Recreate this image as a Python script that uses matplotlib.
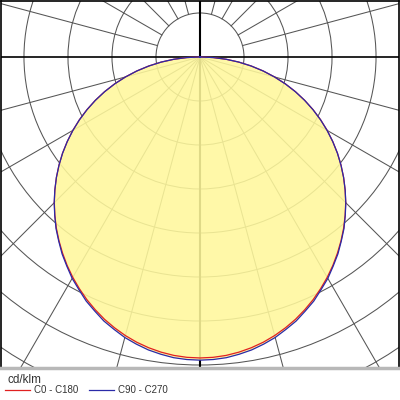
import numpy as np
import matplotlib.pyplot as plt
from matplotlib.patches import Circle

plt.rcParams['font.family'] = ['Liberation Sans', 'DejaVu Sans']

# luminous intensity (cd/klm) against angle from nadir, one half of each plane
angles = [0, 2.5, 5, 7.5, 10, 12.5, 15, 17.5, 20, 22.5, 25, 27.5, 30, 32.5, 35, 37.5,
          40, 42.5, 45, 47.5, 50, 52.5, 55, 57.5, 60, 62.5, 65, 67.5, 70, 72.5, 75,
          77.5, 80, 82.5, 85, 87.5, 90]
c0_c180 = [342.0, 341.6, 340.4, 338.3, 335.5, 332.0, 327.7, 322.7, 317.2, 310.9,
           304.2, 296.8, 289.1, 280.9, 272.2, 263.2, 253.9, 244.1, 234.1, 223.7,
           213.0, 202.0, 190.7, 178.9, 166.9, 154.5, 141.8, 128.8, 115.5, 101.8,
           87.8, 73.6, 59.2, 44.5, 29.8, 14.9, 0.0]
c90_c270 = [344.5, 344.1, 343.0, 340.7, 338.0, 334.2, 330.0, 324.6, 319.3, 312.5,
            306.0, 298.0, 290.5, 281.7, 273.2, 263.7, 254.5, 244.3, 234.3, 223.7,
            213.0, 201.9, 190.6, 178.8, 166.7, 154.3, 141.6, 128.6, 115.3, 101.6,
            87.6, 73.5, 59.0, 44.4, 29.7, 14.9, 0.0]
labels = ['C0 - C180', 'C90 - C270']
unit = 'cd/klm'

grid_step = 50
n_rings = 9

fig = plt.figure(figsize=(4, 4), dpi=100)
ax = fig.add_axes([1/400, 32/400, 398/400, 367/400])
ax.set_xlim(-226.1, 226.1)
ax.set_ylim(-353.4, 63.6)
ax.set_xticks([])
ax.set_yticks([])
for s in ['left', 'top', 'right']:
    ax.spines[s].set_color('black')
    ax.spines[s].set_linewidth(1.2)
ax.spines['bottom'].set_color('#b8b8b8')
ax.spines['bottom'].set_linewidth(2.5)

gcol = '#555555'
rmax = grid_step * n_rings
for i in range(1, n_rings + 1):
    ax.add_patch(Circle((0, 0), grid_step * i, fill=False, ec=gcol, lw=0.75, zorder=1))
for a in range(-165, 180, 15):
    t = np.deg2rad(a)
    if a in (0, -180, 90, -90):
        continue
    r0 = grid_step if np.sin(t) > 0 else 0
    ax.plot([r0 * np.cos(t), rmax * np.cos(t)], [r0 * np.sin(t), rmax * np.sin(t)],
            color=gcol, lw=0.75, zorder=1)
ax.axhline(0, color='black', lw=1.2, zorder=1)
ax.axvline(0, color='black', lw=1.5, zorder=1)


def outline(vals):
    th = np.deg2rad(np.array(angles))
    v = np.array(vals, dtype=float)
    th_full = np.concatenate([-th[::-1], th[1:]])
    v_full = np.concatenate([v[::-1], v[1:]])
    return v_full * np.sin(th_full), -v_full * np.cos(th_full)


xr, yr = outline(c0_c180)
xb, yb = outline(c90_c270)
ax.fill(xb, yb, color='#fff89c', alpha=0.88, lw=0, zorder=2)
ax.plot(xr, yr, color='#e02020', lw=0.9, zorder=3, label=labels[0])
ax.plot(xb, yb, color='#2a2aa8', lw=0.9, zorder=3, label=labels[1])

fig.text(8/400, 1 - 380/400, unit, fontsize=8.5, color='#333333', va='center')
fig.legend(loc='upper left', bbox_to_anchor=(5/400, 1 - 385/400), ncol=2, frameon=False,
           fontsize=7, handlelength=2.6, handletextpad=0.4, columnspacing=1.1,
           borderpad=0, borderaxespad=0, labelcolor='#333333')

plt.savefig('out.png', dpi=100)
